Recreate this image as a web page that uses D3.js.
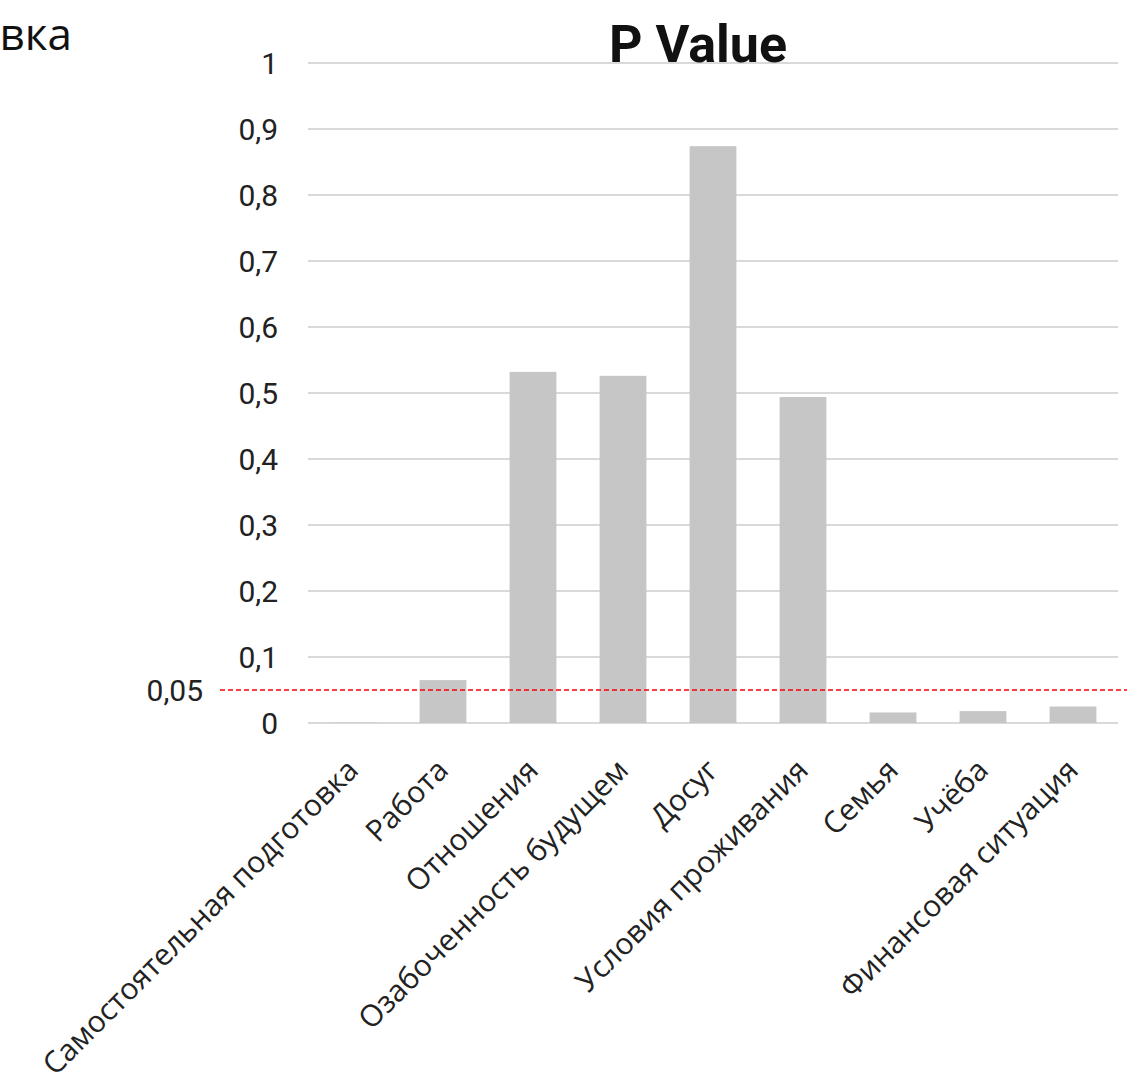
<!DOCTYPE html>
<html><head><meta charset="utf-8">
<script src="https://cdn.jsdelivr.net/npm/d3@7"></script>
<style>body{margin:0;background:#fff}</style>
</head><body>
<svg id="c" width="1127" height="1088"></svg>
<script>
const categories = ["Самостоятельная подготовка","Работа","Отношения","Озабоченность будущем","Досуг","Условия проживания","Семья","Учёба","Финансовая ситуация"];
const pValues = [0.0005,0.065,0.532,0.526,0.874,0.494,0.016,0.018,0.025];
const yTicks = [0,0.1,0.2,0.3,0.4,0.5,0.6,0.7,0.8,0.9,1];
const threshold = 0.05;
const fmt = v => String(v).replace(".", ",");

const svg = d3.select("#c");
const x = d3.scaleBand().domain(categories).range([308,1118]).paddingInner(0.48).paddingOuter(0.24);
const y = d3.scaleLinear().domain([0,1]).range([723,63]);

// gridlines
svg.append("g").selectAll("line").data(yTicks).join("line")
  .attr("x1",308).attr("x2",1118).attr("y1",d=>y(d)).attr("y2",d=>y(d))
  .attr("stroke","#d9d9d9").attr("stroke-width",2);

// y tick labels
const yAxis = d3.axisLeft(y).tickValues(yTicks).tickFormat(fmt).tickSize(0).tickPadding(0);
const ga = svg.append("g").attr("transform","translate(278,0)").call(yAxis);
ga.select(".domain").remove();
ga.selectAll("text").attr("font-family","Roboto").attr("font-size",30).attr("fill","#222").attr("dy","0.36em");

// bars
svg.append("g").selectAll("rect").data(pValues).join("rect")
  .attr("x",(d,i)=>x(categories[i])).attr("width",x.bandwidth())
  .attr("y",d=>y(d)).attr("height",d=>y(0)-y(d)).attr("fill","#c6c6c6");

// threshold line
svg.append("line").attr("x1",220).attr("x2",1127).attr("y1",y(threshold)).attr("y2",y(threshold))
  .attr("stroke","#ff0000").attr("stroke-width",1.3).attr("stroke-dasharray","5,3");
svg.append("text").attr("x",203).attr("y",y(threshold)).attr("dy","0.36em").attr("text-anchor","end")
  .attr("font-family","Roboto").attr("font-size",30).attr("fill","#222").text(fmt(threshold));

// category labels
svg.append("g").selectAll("text").data(categories).join("text")
  .attr("transform",d=>`translate(${x(d)+x.bandwidth()/2+7},772) rotate(-45)`)
  .attr("text-anchor","end").attr("font-family","Open Sans").attr("font-size",30).attr("fill","#222")
  .text(d=>d);

// title
svg.append("text").attr("x",698).attr("y",62).attr("text-anchor","middle")
  .attr("font-family","Roboto").attr("font-weight","bold").attr("font-size",52).attr("fill","#111").text("P Value");

// clipped legend-like leftover text
svg.append("text").attr("x",72).attr("y",50).attr("text-anchor","end")
  .attr("font-family","Open Sans").attr("font-size",44).attr("fill","#111").text("Самостоятельная подготовка");
</script>
</body></html>
